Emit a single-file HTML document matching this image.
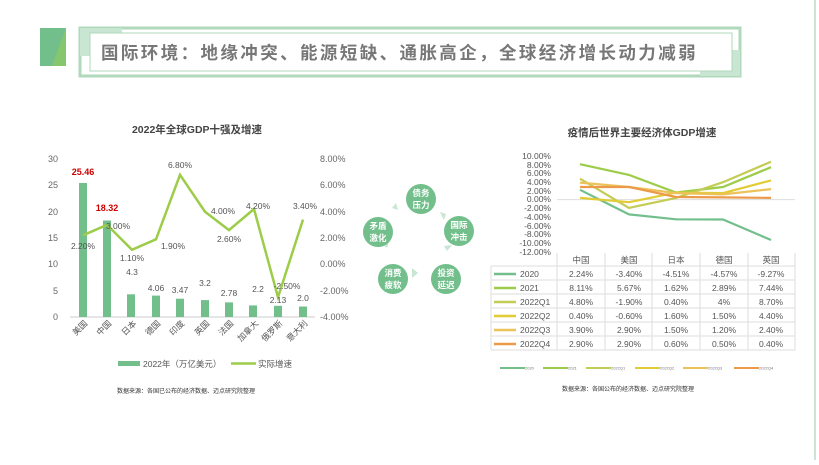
<!DOCTYPE html><html><head><meta charset="utf-8"><style>
body{margin:0;width:819px;height:460px;background:#fff;overflow:hidden;font-family:"Liberation Sans","Noto Sans CJK SC",sans-serif;}
</style></head><body>
<svg width="819" height="460" xmlns="http://www.w3.org/2000/svg" font-family="Liberation Sans, Noto Sans CJK SC, sans-serif">
<line x1="815" y1="0" x2="815" y2="460" stroke="#cfe3d4" stroke-width="2"/>
<!-- header -->
<polygon points="40,28 66,28 66,66 40,66" fill="#86c66c"/>
<polygon points="40,28 66,28 52,66 40,66" fill="#72bf8c"/>
<rect x="80" y="28" width="660" height="48" fill="none" stroke="#b0d9bc" stroke-width="3"/>
<rect x="80" y="28" width="42" height="28" fill="#c8e6d2"/>
<rect x="700" y="50" width="40" height="26" fill="#c8e6d2"/>
<rect x="90" y="33" width="642" height="38" fill="#fff" stroke="#b0d9bc" stroke-width="1"/>
<text x="101" y="59" font-size="17.5" font-weight="bold" fill="#777" letter-spacing="2.4">国际环境：地缘冲突、能源短缺、通胀高企，全球经济增长动力减弱</text>
<!-- left chart -->
<text x="197" y="133" font-size="10.5" font-weight="bold" fill="#444" text-anchor="middle">2022年全球GDP十强及增速</text>
<g font-size="9" fill="#666">
<text x="58" y="162" text-anchor="end">30</text><text x="58" y="188" text-anchor="end">25</text><text x="58" y="215" text-anchor="end">20</text><text x="58" y="241" text-anchor="end">15</text><text x="58" y="267" text-anchor="end">10</text><text x="58" y="294" text-anchor="end">5</text><text x="58" y="320" text-anchor="end">0</text>
<text x="320" y="162">8.00%</text><text x="320" y="188">6.00%</text><text x="320" y="215">4.00%</text><text x="320" y="241">2.00%</text><text x="320" y="267">0.00%</text><text x="320" y="294">-2.00%</text><text x="320" y="320">-4.00%</text>
</g>
<line x1="70" y1="317" x2="315" y2="317" stroke="#ccc"/>
<g fill="#72bf8c">
<rect x="79" y="183" width="8" height="134"/><rect x="103" y="220.5" width="8" height="96.5"/><rect x="127" y="294.3" width="8" height="22.7"/><rect x="152" y="295.6" width="8" height="21.4"/><rect x="176" y="298.7" width="8" height="18.3"/><rect x="201" y="300.1" width="8" height="16.9"/><rect x="225" y="302.4" width="8" height="14.6"/><rect x="249" y="305.4" width="8" height="11.6"/><rect x="274" y="305.8" width="8" height="11.2"/><rect x="299" y="306.5" width="8" height="10.5"/>
</g>
<polyline fill="none" stroke="#9ccc48" stroke-width="2.5" points="83,235.3 107,224.8 132,249.8 156,239.3 180,174.8 205,211.7 229,230.1 254,209.0 278,297.2 303,219.6"/>
<g font-size="8.5" fill="#555" text-anchor="middle">
<text x="83" y="249">2.20%</text><text x="118" y="229">3.00%</text><text x="132" y="261">1.10%</text><text x="173" y="249">1.90%</text><text x="180" y="168">6.80%</text><text x="223" y="214">4.00%</text><text x="229" y="242">2.60%</text><text x="258" y="209">4.20%</text><text x="287" y="289">-2.50%</text><text x="305" y="209">3.40%</text>
<text x="132" y="275">4.3</text><text x="156" y="291">4.06</text><text x="180" y="293">3.47</text><text x="205" y="286">3.2</text><text x="229" y="296">2.78</text><text x="258" y="292">2.2</text><text x="278" y="303">2.13</text><text x="303" y="301">2.0</text>
</g>
<text x="83" y="175" font-size="9" font-weight="bold" fill="#c00" text-anchor="middle">25.46</text>
<text x="107" y="211" font-size="9" font-weight="bold" fill="#c00" text-anchor="middle">18.32</text>
<g font-size="8.5" fill="#555" text-anchor="end">
<text transform="translate(88,324) rotate(-45)">美国</text><text transform="translate(112,324) rotate(-45)">中国</text><text transform="translate(137,324) rotate(-45)">日本</text><text transform="translate(161,324) rotate(-45)">德国</text><text transform="translate(185,324) rotate(-45)">印度</text><text transform="translate(210,324) rotate(-45)">英国</text><text transform="translate(234,324) rotate(-45)">法国</text><text transform="translate(259,324) rotate(-45)">加拿大</text><text transform="translate(283,324) rotate(-45)">俄罗斯</text><text transform="translate(308,324) rotate(-45)">意大利</text>
</g>
<rect x="118" y="361" width="22" height="5" fill="#72bf8c"/>
<text x="143" y="367" font-size="8.5" fill="#555">2022年（万亿美元）</text>
<line x1="231" y1="363.5" x2="256" y2="363.5" stroke="#9ccc48" stroke-width="2.5"/>
<text x="258" y="367" font-size="8.5" fill="#555">实际增速</text>
<text x="117" y="393" font-size="6" fill="#333">数据来源：各国已公布的经济数据、迈点研究院整理</text>
<!-- cycle -->
<g fill="#c8e6d2">
<polygon points="440,212 446,214 444,220"/><polygon points="452,245 447,251 444,246"/><polygon points="418,273 412,278 412,268"/><polygon points="387,248 381,243 389,241"/><polygon points="398,210 392,208 396,203"/>
</g>
<g fill="#72bf8c"><circle cx="421" cy="199" r="15"/><circle cx="459" cy="231" r="15"/><circle cx="446" cy="279" r="15"/><circle cx="393" cy="279" r="15"/><circle cx="378" cy="232" r="15"/></g>
<g font-size="8.5" font-weight="bold" fill="#fff" text-anchor="middle">
<text x="421" y="196">债务</text><text x="421" y="208">压力</text>
<text x="459" y="228">国际</text><text x="459" y="240">冲击</text>
<text x="446" y="276">投资</text><text x="446" y="288">延迟</text>
<text x="393" y="276">消费</text><text x="393" y="288">疲软</text>
<text x="378" y="229">矛盾</text><text x="378" y="241">激化</text>
</g>
<!-- right chart -->
<text x="642" y="136" font-size="10.5" font-weight="bold" fill="#444" text-anchor="middle">疫情后世界主要经济体GDP增速</text>
<g font-size="8.5" fill="#555" text-anchor="end">
<text x="551" y="159">10.00%</text><text x="551" y="168">8.00%</text><text x="551" y="176">6.00%</text><text x="551" y="185">4.00%</text><text x="551" y="194">2.00%</text><text x="551" y="202">0.00%</text><text x="551" y="211">-2.00%</text><text x="551" y="220">-4.00%</text><text x="551" y="229">-6.00%</text><text x="551" y="237">-8.00%</text><text x="551" y="246">-10.00%</text><text x="551" y="255">-12.00%</text>
</g>
<line x1="557" y1="199.6" x2="795" y2="199.6" stroke="#ddd"/>
<g fill="none" stroke-width="2.2">
<polyline stroke="#72bf8c" points="580,189.8 629,214.4 676,219.3 723,219.5 771,240"/>
<polyline stroke="#9ccc48" points="580,164.2 629,174.9 676,192.5 723,187 771,167.2"/>
<polyline stroke="#c3cc55" points="580,178.7 629,207.9 676,197.9 723,182.2 771,161.7"/>
<polyline stroke="#e2cc35" points="580,197.9 629,202.2 676,192.6 723,193.1 771,180.4"/>
<polyline stroke="#ecc25a" points="580,182.6 629,187 676,193.1 723,194.4 771,189.1"/>
<polyline stroke="#ec9a4a" points="580,187 629,187 676,197 723,197.4 771,197.9"/>
</g>
<g stroke="#ddd" fill="none"><path d="M557,253V350M605,253V350M652,253V350M700,253V350M748,253V350M795,253V350M491,266V350M491,266H795M491,280H795M491,294H795M491,308H795M491,322H795M491,336H795M491,350H795"/></g>
<g font-size="8.5" fill="#555" text-anchor="middle">
<text x="581" y="263">中国</text><text x="629" y="263">美国</text><text x="676" y="263">日本</text><text x="724" y="263">德国</text><text x="771" y="263">英国</text>
<text x="581" y="277">2.24%</text><text x="629" y="277">-3.40%</text><text x="676" y="277">-4.51%</text><text x="724" y="277">-4.57%</text><text x="771" y="277">-9.27%</text>
<text x="581" y="291">8.11%</text><text x="629" y="291">5.67%</text><text x="676" y="291">1.62%</text><text x="724" y="291">2.89%</text><text x="771" y="291">7.44%</text>
<text x="581" y="305">4.80%</text><text x="629" y="305">-1.90%</text><text x="676" y="305">0.40%</text><text x="724" y="305">4%</text><text x="771" y="305">8.70%</text>
<text x="581" y="319">0.40%</text><text x="629" y="319">-0.60%</text><text x="676" y="319">1.60%</text><text x="724" y="319">1.50%</text><text x="771" y="319">4.40%</text>
<text x="581" y="333">3.90%</text><text x="629" y="333">2.90%</text><text x="676" y="333">1.50%</text><text x="724" y="333">1.20%</text><text x="771" y="333">2.40%</text>
<text x="581" y="347">2.90%</text><text x="629" y="347">2.90%</text><text x="676" y="347">0.60%</text><text x="724" y="347">0.50%</text><text x="771" y="347">0.40%</text>
</g>
<g stroke-width="2.5">
<line x1="494" y1="274" x2="516" y2="274" stroke="#72bf8c"/><line x1="494" y1="288" x2="516" y2="288" stroke="#9ccc48"/><line x1="494" y1="302" x2="516" y2="302" stroke="#c3cc55"/><line x1="494" y1="316" x2="516" y2="316" stroke="#e2cc35"/><line x1="494" y1="330" x2="516" y2="330" stroke="#ecc25a"/><line x1="494" y1="344" x2="516" y2="344" stroke="#ec9a4a"/>
</g>
<g font-size="8.5" fill="#555"><text x="520" y="277">2020</text><text x="520" y="291">2021</text><text x="520" y="305">2022Q1</text><text x="520" y="319">2022Q2</text><text x="520" y="333">2022Q3</text><text x="520" y="347">2022Q4</text></g>
<g stroke-width="2"><line x1="500" y1="368" x2="525" y2="368" stroke="#72bf8c"/><line x1="543" y1="368" x2="568" y2="368" stroke="#9ccc48"/><line x1="586" y1="368" x2="611" y2="368" stroke="#c3cc55"/><line x1="635" y1="368" x2="660" y2="368" stroke="#e2cc35"/><line x1="683" y1="368" x2="708" y2="368" stroke="#ecc25a"/><line x1="734" y1="368" x2="759" y2="368" stroke="#ec9a4a"/></g>
<g font-size="4" fill="#777"><text x="525" y="369.5">2020</text><text x="568" y="369.5">2021</text><text x="611" y="369.5">2022Q1</text><text x="660" y="369.5">2022Q2</text><text x="708" y="369.5">2022Q3</text><text x="759" y="369.5">2022Q4</text></g>
<text x="562" y="391" font-size="6" fill="#333">数据来源：各国公布的经济数据、迈点研究院整理</text>
</svg>
</body></html>
